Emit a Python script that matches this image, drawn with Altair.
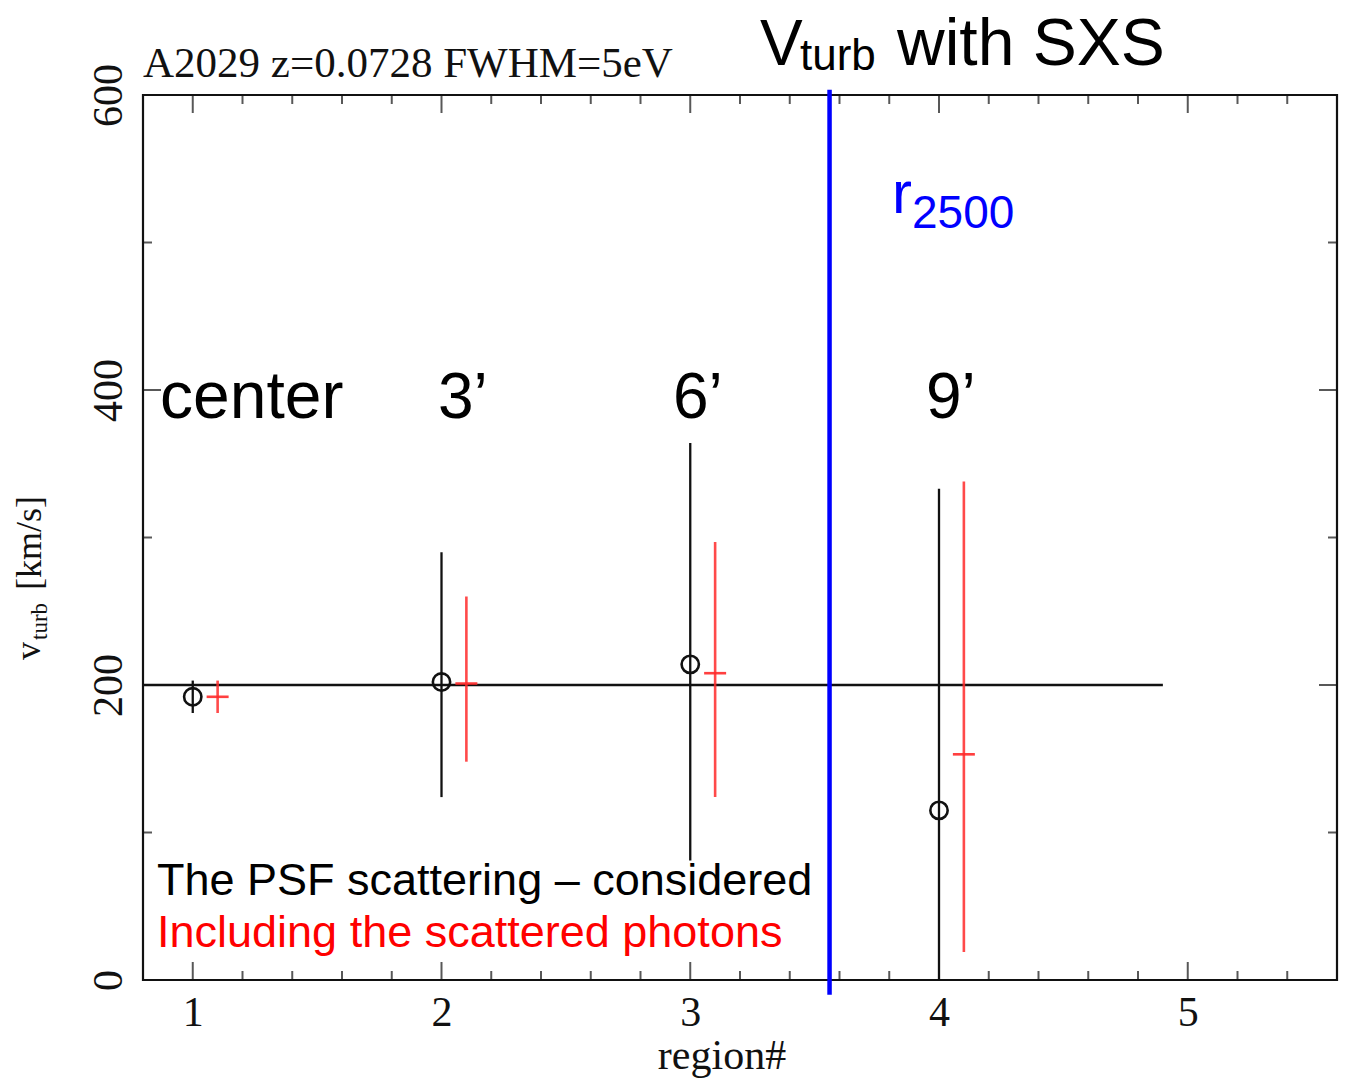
import altair as alt
import pandas as pd

# ---- data ----
regions = [1, 2, 3, 4]
black_v = [192, 202, 214, 115]
black_lo = [181, 124, 81, 0]
black_hi = [203, 290, 364, 333]

red_x = [1.1, 2.1, 3.1, 4.1]
red_v = [192, 201, 208, 153]
red_lo = [181, 148, 124, 19]
red_hi = [203, 260, 297, 338]

ref_level = 200
ref_x_start = 0.8
ref_x_end = 4.9
r2500_x = 3.56

x_major = [1, 2, 3, 4, 5]
x_minor = [1.2, 1.4, 1.6, 1.8, 2.2, 2.4, 2.6, 2.8, 3.2, 3.4, 3.6, 3.8,
           4.2, 4.4, 4.6, 4.8, 5.2, 5.4]
y_major_labels = [0, 200, 400, 600]
y_major_inner = [200, 400]
y_minor = [100, 300, 500]

XDOM = [0.8, 5.6]
YDOM = [0, 600]
W, H = 1194, 885
SERIF = "Liberation Serif"
SANS = "Liberation Sans"

black_df = pd.DataFrame({"x": regions, "v": black_v, "lo": black_lo, "hi": black_hi})
red_df = pd.DataFrame({"x": red_x, "v": red_v, "lo": red_lo, "hi": red_hi})

xs = alt.Scale(domain=XDOM, nice=False, zero=False)
ys = alt.Scale(domain=YDOM, nice=False, zero=False)

x_axis = alt.Axis(values=x_major, format="d", labelFont=SERIF, labelFontSize=42,
                  labelColor="#111", ticks=False, tickSize=0, domain=False, grid=False,
                  labelPadding=12, title=None)
y_axis = alt.Axis(values=y_major_labels, format="d", labelFont=SERIF, labelFontSize=42,
                  labelColor="#111", ticks=False, tickSize=0, domain=False, grid=False,
                  labelAngle=270, labelAlign="center", labelBaseline="alphabetic",
                  labelPadding=22, title=None)

base_black = alt.Chart(black_df)
black_err = base_black.mark_rule(color="#111", strokeWidth=2.3).encode(
    x=alt.X("x:Q", scale=xs, axis=x_axis),
    y=alt.Y("lo:Q", scale=ys, axis=y_axis),
    y2="hi:Q",
)
black_pts = base_black.mark_point(shape="circle", filled=False, color="#111",
                                  size=300, strokeWidth=2.6, opacity=1).encode(
    x=alt.X("x:Q", scale=xs), y=alt.Y("v:Q", scale=ys))

base_red = alt.Chart(red_df)
red_err = base_red.mark_rule(color="#ff2a2a", strokeWidth=2.6, opacity=0.85).encode(
    x=alt.X("x:Q", scale=xs), y=alt.Y("lo:Q", scale=ys), y2="hi:Q")
red_cap = base_red.mark_tick(color="#ff2a2a", orient="horizontal", size=22,
                             thickness=2.6, opacity=0.9).encode(
    x=alt.X("x:Q", scale=xs), y=alt.Y("v:Q", scale=ys))

ref_line = alt.Chart(pd.DataFrame({"y": [ref_level], "x1": [ref_x_start], "x2": [ref_x_end]})).mark_rule(
    color="#111", strokeWidth=2.3).encode(
    x=alt.X("x1:Q", scale=xs), x2="x2:Q", y=alt.Y("y:Q", scale=ys))

blue_line = alt.Chart(pd.DataFrame({"x": [r2500_x]})).mark_rule(
    color="#0000ff", strokeWidth=4.5).encode(
    x=alt.X("x:Q", scale=xs), y=alt.datum(603.5), y2=alt.datum(-10))

# ---- inward ticks on all four sides ----
def xticks(vals, size, at_y, off):
    return alt.Chart(pd.DataFrame({"x": vals})).mark_tick(
        orient="vertical", size=size, thickness=2, color="#111", yOffset=off).encode(
        x=alt.X("x:Q", scale=xs), y=alt.datum(at_y))

def yticks(vals, size, at_x, off):
    return alt.Chart(pd.DataFrame({"y": vals})).mark_tick(
        orient="horizontal", size=size, thickness=2, color="#111", xOffset=off).encode(
        y=alt.Y("y:Q", scale=ys), x=alt.datum(at_x))

ticks = [
    xticks(x_major, 18, 0, -9), xticks(x_minor, 9, 0, -4.5),
    xticks(x_major, 18, 600, 9), xticks(x_minor, 9, 600, 4.5),
    yticks(y_major_inner, 18, 0.8, 9), yticks(y_minor, 9, 0.8, 4.5),
    yticks(y_major_inner, 18, 5.6, -9), yticks(y_minor, 9, 5.6, -4.5),
]

# ---- text annotations ----
def txt(s, x, y, size, color="#000", font=SANS, align="left", baseline="alphabetic", angle=0):
    kw = dict(fontSize=size, color=color, font=font, align=align, baseline=baseline)
    if angle:
        kw["angle"] = angle
    return alt.Chart(pd.DataFrame({"t": [s]})).mark_text(**kw).encode(
        x=alt.value(x), y=alt.value(y), text="t:N")

texts = [
    txt("A2029 z=0.0728 FWHM=5eV", 0, -18, 43, "#111", SERIF),
    txt("V", 617, -30, 64),
    txt("turb", 657, -25, 44),
    txt("with SXS", 754, -30, 66),
    txt("r", 749, 118, 60, "#0000ff"),
    txt("2500", 769, 133, 46, "#0000ff"),
    txt("center", 17, 323, 66),
    txt("3\u2019", 295, 323, 64),
    txt("6\u2019", 530, 323, 64),
    txt("9\u2019", 783, 323, 64),
    txt("The PSF scattering \u2013 considered", 14, 800, 45),
    txt("Including the scattered photons", 14, 852, 45, "#ff0000"),
    txt("region#", 579, 974, 42, "#111", SERIF, align="center"),
    txt("v", -103, 565, 36, "#111", SERIF, angle=270),
    txt("turb", -96, 545, 23, "#111", SERIF, angle=270),
    txt("[km/s]", -102, 495, 36, "#111", SERIF, angle=270),
]

chart = alt.layer(black_err, ref_line, black_pts, red_err, red_cap, blue_line,
                  *ticks, *texts).properties(
    width=W, height=H,
    autosize=alt.AutoSizeParams(type="none"),
    padding={"left": 143, "top": 95, "right": 13, "bottom": 105},
    background="white",
).configure_view(stroke="#111", strokeWidth=2.2)

chart.save("out.html", embed_options={"renderer": "svg", "actions": False})
